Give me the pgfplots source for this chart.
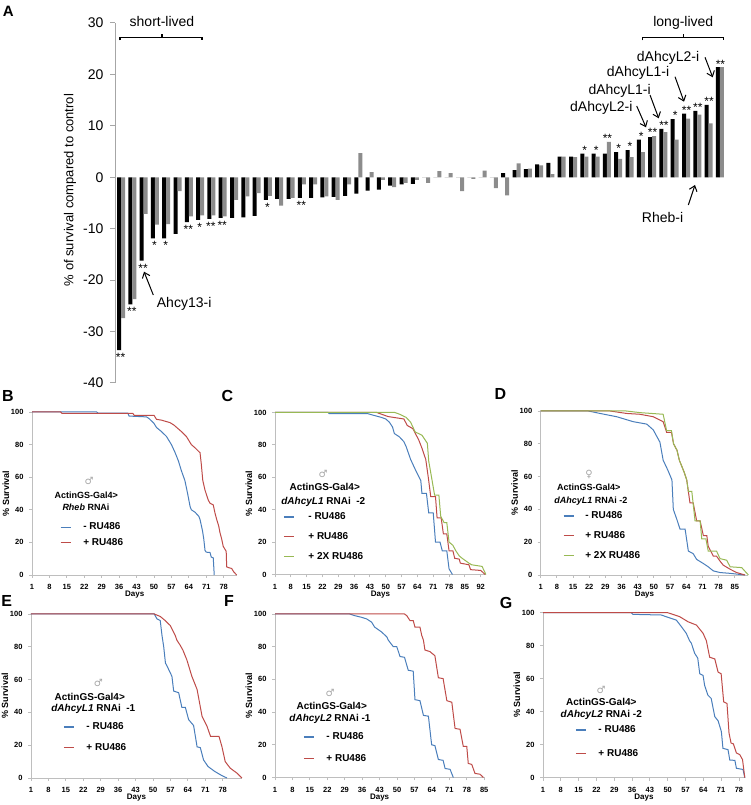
\documentclass[border=0pt]{standalone}
\usepackage{pgfplots}
\pgfplotsset{compat=1.18}
\usepackage{pgfplotstable}
\usepackage{fontspec}
\setmainfont{Liberation Sans}
\newfontfamily\symfont{DejaVu Sans}
\usetikzlibrary{calc,arrows.meta}

\definecolor{cblue}{RGB}{74,126,187}
\definecolor{cred}{RGB}{190,75,72}
\definecolor{cgreen}{RGB}{152,185,84}
\definecolor{bargray}{RGB}{140,140,140}
\definecolor{axgray}{RGB}{190,190,190}

\newcommand{\fs}[1]{\fontsize{#1}{#1}\selectfont}

% panel A: change in survival, black and gray bar of each line
\pgfplotstableread{
n blk gry
1 -33.6 -27.4
2 -24.7 -23.7
3 -16.2 -7.1
4 -11.9 -9.2
5 -11.9 -9.1
6 -11.0 -2.7
7 -8.7 -7.6
8 -8.3 -7.4
9 -8.1 -7.4
10 -7.9 -7.6
11 -7.9 -4.4
12 -7.8 -3.7
13 -7.5 -3.1
14 -4.4 -3.6
15 -4.2 -5.5
16 -4.2 -4.0
17 -4.0 -1.4
18 -4.0 -1.4
19 -3.9 -3.7
20 -3.8 -4.4
21 -3.6 -1.4
22 -3.2 4.7
23 -2.6 1.0
24 -2.4 -0.5
25 -1.6 -1.9
26 -1.4 -1.1
27 -1.3 -0.5
28 0 -1.1
29 0 1.2
30 0 0.8
31 0 -2.7
32 0 -0.3
33 0 1.3
34 0 -2.1
35 0.8 -3.5
36 1.4 2.7
37 1.6 1.7
38 2.5 2.3
39 2.8 0.6
40 4.0 4.0
41 4.0 3.9
42 4.6 4.0
43 4.6 4.0
44 4.6 6.9
45 4.9 3.6
46 5.3 3.9
47 7.3 4.9
48 7.8 8.0
49 9.4 8.8
50 11.3 7.3
51 12.4 11.4
52 12.9 12.2
53 14.1 10.5
54 21.4 21.4
}\barsA

\pgfplotstableread{
n y s
1 -33.6 **
2 -24.7 **
3 -16.2 **
4 -11.9 *
5 -11.9 *
7 -8.7 **
8 -8.3 *
9 -8.1 **
10 -7.9 **
14 -4.4 *
17 -4.0 **
}\starsNeg

\pgfplotstableread{
n y s
42 4.6 *
43 4.6 *
44 6.9 **
45 4.9 *
46 5.3 *
47 7.3 *
48 8.0 **
49 9.4 **
50 11.3 *
51 12.4 **
52 12.9 **
53 14.1 **
54 21.4 **
}\starsPos

\pgfplotsset{
  surv/.style={
    scale only axis, anchor=south west, clip=false,
    axis lines*=left,
    axis line style={draw=axgray, line width=0.9pt},
    tick style={draw=axgray, line width=0.9pt},
    tick align=outside, major tick length=3pt,
    ymin=0, ymax=100, ytick={0,20,...,100}, xmin=1,
    ticklabel style={font=\bfseries\fs{7.5}},
    yticklabel style={xshift=-2pt},
    xticklabel style={yshift=-3pt},
    /pgf/number format/assume math mode=true,
    xlabel={Days}, ylabel={\% Survival},
    xlabel style={font=\bfseries\fs{8}, at={($(axis description cs:0.5,0)+(0pt,-20pt)$)}, anchor=center},
    ylabel style={font=\bfseries\fs{9}, at={($(axis description cs:0,0.5)+(-26pt,0pt)$)}, anchor=center},
    legend cell align=left,
    legend style={draw=none, fill=none, inner sep=0pt, anchor=north west,
      font=\bfseries\fs{10}, nodes={inner sep=0pt, text depth=0.15em}, column sep=12pt},
    legend image code/.code={\draw[#1, line width=1.2pt] (0pt,0pt) -- (10pt,0pt);},
    every axis plot/.append style={line width=1pt, mark=none},
  },
  stars/.style={only marks, mark=*, mark size=0pt,
    scatter/use mapped color={draw=none, fill=none},
    mark options={draw=none, fill=none},
    nodes near coords, point meta=explicit symbolic},
}

\begin{document}
\begin{tikzpicture}
\useasboundingbox (0pt,0pt) rectangle (750pt,805pt);

% ---------------- A ----------------
\begin{axis}[
  at={(115pt,422pt)}, anchor=south west, scale only axis,
  width=611.7pt, height=360pt, clip=false,
  xmin=0.469, xmax=54.6, ymin=-40, ymax=30,
  axis x line=none, axis y line*=left, xtick=\empty,
  ytick={-40,-30,...,30},
  axis line style={draw=gray!70, line width=1pt},
  tick style={draw=gray!70, line width=1pt},
  tick align=outside, major tick length=5pt,
  yticklabel style={font=\fs{14}, xshift=-3pt},
  /pgf/number format/assume math mode=true,
  ylabel={\% of survival compared to control},
  ylabel style={font=\fs{13}, at={($(axis description cs:0,0.536)+(-45pt,0pt)$)}, anchor=center},
]
\addplot[ybar, bar width=4pt, bar shift=-2pt, fill=black, draw=none] table[x=n, y=blk] {\barsA};
\addplot[ybar, bar width=4pt, bar shift=2pt, fill=bargray, draw=none] table[x=n, y=gry] {\barsA};
\addplot[stars, nodes near coords style={anchor=north, inner sep=0pt, yshift=-3pt, xshift=-0.5pt, font=\fs{12}, text=black}]
  table[x=n, y=y, meta=s] {\starsNeg};
\addplot[stars, nodes near coords style={anchor=south, inner sep=0pt, yshift=-1pt, xshift=0.5pt, font=\fs{12}, text=black}]
  table[x=n, y=y, meta=s] {\starsPos};
\end{axis}

% ---------------- B ----------------
\begin{axis}[surv, at={(32pt,230pt)}, width=205.4pt, height=163pt, xmax=83.5,
  xtick={1,8,...,78},
  legend style={at={(axis description cs:0.136,0.321)}, row sep=7.2pt}]
\addplot[color=cblue] coordinates {(1,100)(27,100)(27.5,99.3)(39.5,99.3)(40,97.5)(47,97)(48,96)(50,93)(51,90.5)(53,88)(55,85)(57,80)(58.5,75)(59.8,70)(61,64)(62.4,58)(63.5,50)(64.5,42)(65,40)(66.5,38.5)(68,36)(68.5,34)(69.5,27)(70,22)(70.5,15)(71,14)(72.5,13.8)(73,11)(73.8,10.5)(74.2,0)};
\addlegendentry{- RU486}
\addplot[color=cred] coordinates {(1,100)(12.5,100)(13,99.2)(41.5,99.2)(42,98)(50,98)(51,95.5)(53,95)(56.4,93.5)(58,92)(61,88)(63,85)(65,80)(66.5,78)(68.5,75)(69,68)(69.6,58)(70.5,52)(71.8,46)(72.5,44)(73.8,43)(74.5,38)(75.2,34)(76,30)(76.5,26)(77.2,22)(77.8,17.6)(79,14.5)(79.2,5)(80,4.5)(81.2,4)(82,2)(83.2,0)};
\addlegendentry{+ RU486}
\end{axis}

% ---------------- C ----------------
\begin{axis}[surv, at={(275pt,230.5pt)}, width=210.9pt, height=162pt, xmax=94.3,
  xtick={1,8,...,92},
  legend style={at={(axis description cs:0.038,0.382)}, row sep=11.2pt, column sep=14pt}]
\addplot[color=cblue] coordinates {(1,100)(24.5,100)(25,99.3)(42,99.3)(44,98.5)(48,97)(50,96)(51.6,94)(53,91)(53.8,87)(56,85)(58,82)(59,79)(61,71)(63,65)(65.5,58)(66,50)(68,50)(69,38)(71,38)(72,20)(74,20)(75,14.6)(77,14.6)(78,3.5)(79.5,0)};
\addlegendentry{- RU486}
\addplot[color=cred] coordinates {(1,100)(46,100)(48,99)(51,97.5)(58,96)(59.5,92)(62,90)(64.6,83)(66,78)(67.7,71)(69,58)(69.9,48)(72,48)(72.7,35)(74.5,35)(75.5,25)(77,25)(78,14.6)(79.7,14.6)(80.5,10)(82.5,9.5)(83,7)(86.8,6)(87.5,3)(92,2.5)(94,0)};
\addlegendentry{+ RU486}
\addplot[color=cgreen] coordinates {(1,100)(54,100)(56,99)(59,97)(61,94)(63,88)(66,86)(68.4,81)(69,70)(70.5,58)(71.6,49)(73.5,49)(74.3,36)(75.8,32)(77,32)(78,20)(79.7,18)(81,14.6)(82.5,11.5)(83.8,10)(86.8,7)(88,6)(92.6,5)(94.3,0)};
\addlegendentry{+ 2X RU486}
\end{axis}

% ---------------- D ----------------
\begin{axis}[surv, at={(540.7pt,230pt)}, width=207.7pt, height=164pt, xmax=90.9,
  xtick={1,8,...,85},
  legend style={at={(axis description cs:0.107,0.387)}, row sep=11.2pt, column sep=11pt}]
\addplot[color=cblue] coordinates {(1,100)(21.6,100)(26.7,98.5)(33.9,96.5)(41,93.5)(46.9,92)(49.7,88.5)(52.6,81)(54,70)(56,64)(57.8,58)(58.4,40)(59.9,34)(61.3,28)(63.5,28)(64.9,14.6)(67,13)(68.5,9.5)(71.4,7)(73.5,5)(75.7,2.5)(78.6,1.5)(83,1)(89.4,0)};
\addlegendentry{- RU486}
\addplot[color=cred] coordinates {(1,100)(31,100)(38.2,98.5)(44,98)(49.7,96.5)(54,93.5)(55.5,87)(57.6,87)(58.5,80)(60,76)(61,70)(63,63)(64.2,58)(65.6,44)(67,44)(68.5,33)(70,33)(71.4,24)(72.9,24)(73.5,17.6)(75.7,11.5)(77.1,11.5)(78.6,8.5)(80,6)(83,3.5)(85.8,1.5)(89.4,0)};
\addlegendentry{+ RU486}
\addplot[color=cgreen] coordinates {(1,100)(38,100)(44,99)(54,98)(55.5,88)(57.6,88)(58.5,80)(60,76)(61,70)(63,63)(64.2,58)(64.9,51)(66.4,51)(67.8,33)(70,33)(70.7,22)(72.5,22)(73.5,14.6)(77.1,14.6)(78.6,10)(81.5,9)(83,5)(88,4.5)(90.9,0)};
\addlegendentry{+ 2X RU486}
\end{axis}

% ---------------- E ----------------
\begin{axis}[surv, at={(31pt,27pt)}, width=210.9pt, height=164pt, xmax=85.7,
  xtick={1,8,...,78},
  legend style={at={(axis description cs:0.152,0.338)}, row sep=12.2pt}]
\addplot[color=cblue] coordinates {(1,100)(50.5,100)(51.6,97)(52.9,96)(53.6,87)(54.3,80)(55,70)(55.4,69)(57.6,62)(58.3,53)(60.3,52)(61.6,43)(63,43)(64.3,35.6)(66.3,32)(67.7,19)(69,18.5)(70.3,11)(72.1,7)(74.8,4)(77.6,1.5)(79.7,0)};
\addlegendentry{- RU486}
\addplot[color=cred] coordinates {(1,100)(50.5,100)(52.9,98.5)(54.9,96)(56.9,93)(58.9,87)(59.6,84)(60.9,81)(62,78)(63.6,72)(65.6,62)(67.7,54)(69.7,37.6)(71.7,31.5)(73.1,25.4)(76.5,25.4)(77.7,19)(79,10)(81,6)(83.7,3)(85.7,0)};
\addlegendentry{+ RU486}
\end{axis}

% ---------------- F ----------------
\begin{axis}[surv, at={(275pt,27.5pt)}, width=209.2pt, height=163.5pt, xmax=85,
  xtick={1,8,...,85},
  legend style={at={(axis description cs:0.134,0.275)}, row sep=13.2pt}]
\addplot[color=cblue] coordinates {(1,100)(31,100)(33,99)(35.7,98)(37.8,97)(39.8,95)(41,92)(43.8,89)(45.9,86)(46.5,84)(48.5,80)(49.9,80)(51.2,74)(53,73.5)(54.5,65.6)(56.5,65)(57.2,47.6)(59.2,47)(60.6,38)(62.6,37.5)(63.9,20)(65.2,19.5)(66.6,11)(68.5,10.5)(69.3,5.5)(71.3,5)(72.6,0)};
\addlegendentry{- RU486}
\addplot[color=cred] coordinates {(1,100)(53,100)(53.9,99)(55.2,96)(56.5,96)(57.2,92)(59.2,92)(59.9,87)(60.6,84)(61.2,78)(63.2,77)(65.2,74.5)(66.6,61)(68.5,60.5)(70,47)(72,46)(73.3,30)(75.3,29.5)(76.6,19)(78,19)(78.6,8.6)(80,8)(81.3,2.5)(83.3,2)(84.7,0)};
\addlegendentry{+ RU486}
\end{axis}

% ---------------- G ----------------
\begin{axis}[surv, at={(543pt,27.3pt)}, width=201.8pt, height=165pt, xmax=80.3,
  xtick={1,8,...,78},
  legend style={at={(axis description cs:0.159,0.316)}, row sep=15.2pt}]
\addplot[color=cblue] coordinates {(1,100)(35.7,100)(36.3,99)(47.5,98.6)(49.5,97.5)(53.4,95.5)(55.4,91.5)(57.3,87.5)(58.6,83)(59.3,81.5)(60.6,75.4)(61.8,72.5)(62.6,63)(63.9,62)(64.5,56)(65.8,50)(67.1,48)(68.5,37)(69.8,34.5)(71.1,27.9)(71.7,17.8)(73.7,17)(74.4,10.7)(76.4,10.5)(77,5.7)(79.6,5)(80.3,0)};
\addlegendentry{- RU486}
\addplot[color=cred] coordinates {(1,100)(50,100)(52,99)(54.7,97.6)(58,94.5)(61.3,92.5)(63.9,87.5)(65.2,83)(66.5,73)(68.5,72)(69.8,64)(71,63)(72,46)(73.3,45)(74.1,27)(74.9,21)(75.8,20.5)(77,15)(78.3,14)(79.4,11)(80.3,0)};
\addlegendentry{+ RU486}
\end{axis}

% ---------------- annotations ----------------
\tikzset{plab/.style={font=\bfseries\fs{16}, inner sep=0pt, text height=0.716em, text depth=0pt},
  hdr/.style={font=\bfseries\fs{#1}, inner sep=0pt, text height=0.72em, text depth=0pt},
  sex/.style={font=\symfont\fs{10}, text=gray!70, inner sep=0pt},
  ann/.style={font=\fs{14}, inner sep=0pt, anchor=base west},
  arr/.style={line width=1pt, -{Straight Barb[length=5pt,width=8pt]}}}
\node[plab, font=\bfseries\fs{15}] at (8.3pt,792.2pt) {A};
\node[plab] at (7.8pt,407.5pt) {B};
\node[plab] at (227.5pt,407.5pt) {C};
\node[plab] at (500.3pt,409pt) {D};
\node[plab] at (6.7pt,201.7pt) {E};
\node[plab] at (229pt,201.7pt) {F};
\node[plab] at (506pt,200pt) {G};

\node[font=\fs{14}, inner sep=0pt, anchor=base] at (162pt,778pt) {short-lived};
\node[font=\fs{14}, inner sep=0pt, anchor=base] at (683.3pt,778pt) {long-lived};
\draw[line width=1.2pt] (120pt,764.5pt) -- (120pt,767.7pt) -- (202pt,767.7pt) -- (202pt,764.5pt);
\draw[line width=1.2pt] (162pt,767.7pt) -- (162pt,770.5pt);
\draw[line width=1.2pt] (642.7pt,764.5pt) -- (642.7pt,767.7pt) -- (723.3pt,767.7pt) -- (723.3pt,764.5pt);
\draw[line width=1.2pt] (683.3pt,767.7pt) -- (683.3pt,770.5pt);

\node[ann] at (156.7pt,497pt) {Ahcy13-i};
\draw[arr] (153.3pt,510pt) -- (144pt,533.3pt);
\node[ann] at (636.7pt,743.3pt) {dAhcyL2-i};
\draw[arr] (705pt,747.7pt) -- (712.7pt,727.7pt);
\node[ann] at (606.7pt,728.3pt) {dAhcyL1-i};
\draw[arr] (675pt,728.3pt) -- (684pt,703.3pt);
\node[ann] at (588.3pt,710pt) {dAhcyL1-i};
\draw[arr] (650pt,710pt) -- (658.7pt,686.7pt);
\node[ann] at (570pt,693.3pt) {dAhcyL2-i};
\draw[arr] (636.7pt,699pt) -- (646pt,677.7pt);
\node[ann] at (641.7pt,582pt) {Rheb-i};
\draw[arr] (688.3pt,600pt) -- (695pt,620pt);

% panel headers
\node[sex] at (89pt,324pt) {♂};
\node[hdr=9] at (86.3pt,310pt) {ActinGS-Gal4>};
\node[hdr=9] at (86pt,298.3pt) {\textit{Rheb} RNAi};
\node[sex] at (323pt,331pt) {♂};
\node[hdr=10] at (324.7pt,317.7pt) {ActinGS-Gal4>};
\node[hdr=10] at (323.3pt,304.3pt) {\textit{dAhcyL1} RNAi\ \ -2};
\node[sex] at (589pt,331pt) {♀};
\node[hdr=9] at (588.8pt,318.3pt) {ActinGS-Gal4>};
\node[hdr=9] at (590.8pt,305pt) {\textit{dAhcyL1} RNAi -2};
\node[sex] at (98.3pt,121.7pt) {♂};
\node[hdr=10] at (89.7pt,108.3pt) {ActinGS-Gal4>};
\node[hdr=10] at (93.3pt,96.7pt) {\textit{dAhcyL1} RNAi\ \ -1};
\node[sex] at (330pt,111.7pt) {♂};
\node[hdr=10] at (331.7pt,99.3pt) {ActinGS-Gal4>};
\node[hdr=10] at (330pt,86.7pt) {\textit{dAhcyL2} RNAi -1};
\node[sex] at (601pt,115pt) {♂};
\node[hdr=10] at (601.3pt,103.3pt) {ActinGS-Gal4>};
\node[hdr=10] at (601.3pt,91pt) {\textit{dAhcyL2} RNAi -2};
\end{tikzpicture}
\end{document}
